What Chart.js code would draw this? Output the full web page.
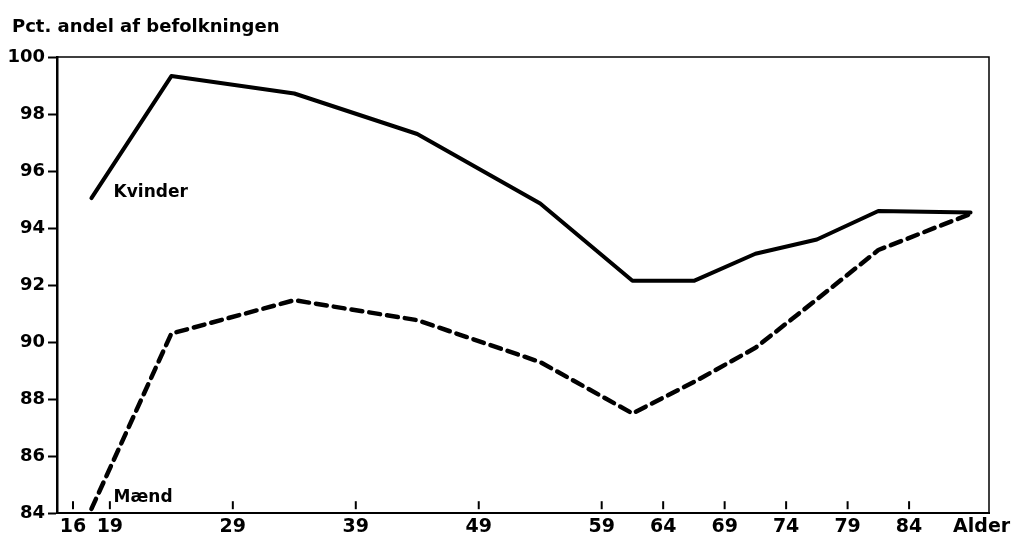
<!DOCTYPE html>
<html>
<head>
<meta charset="utf-8">
<script src="https://cdn.jsdelivr.net/npm/chart.js@4/dist/chart.umd.min.js"></script>
<style>
  html, body { margin: 0; padding: 0; background: #fff; }
  #wrap { width: 1011px; height: 547px; }
</style>
</head>
<body>
<div id="wrap"><canvas id="chart"></canvas></div>
<script>
// alder (midtpunkt af aldersgruppe) og andele
const ages = [17.5, 24, 34, 44, 54, 61.5, 66.5, 71.5, 76.5, 81.5, 89]
const kvinder = [95.05, 99.33, 98.72, 97.3, 94.86, 92.15, 92.15, 93.1, 93.6, 94.6, 94.55]
const maend = [84.15, 90.3, 91.47, 90.77, 89.3, 87.5, 88.6, 89.8, 91.5, 93.23, 94.5]
const xTicks = [16, 19, 29, 39, 49, 59, 64, 69, 74, 79, 84, 89.9]
const yTicks = [84, 86, 88, 90, 92, 94, 96, 98, 100]

const titleText = 'Pct. andel af befolkningen'

// titel, tynd ramme, smaa tick-streger indenfor x-aksen, linjenavne
const decor = {
  id: 'decor',
  afterDatasetsDraw(chart) {
    const { ctx, chartArea: a, scales: { x, y } } = chart
    ctx.save()
    ctx.strokeStyle = '#000'
    ctx.lineWidth = 1.5
    ctx.beginPath()
    ctx.moveTo(a.left, a.top)
    ctx.lineTo(a.right, a.top)
    ctx.lineTo(a.right, a.bottom)
    ctx.stroke()

    ctx.lineWidth = 2
    xTicks.slice(0, -1).forEach((v) => {
      const px = x.getPixelForValue(v)
      ctx.beginPath()
      ctx.moveTo(px, a.bottom - 4)
      ctx.lineTo(px, a.bottom - 12)
      ctx.stroke()
    })

    ctx.fillStyle = '#000'
    ctx.textAlign = 'left'
    ctx.textBaseline = 'alphabetic'
    ctx.font = 'bold 18px "DejaVu Sans"'
    ctx.fillText(titleText, 12, 32)

    ctx.textBaseline = 'middle'
    ctx.font = 'bold 17px "DejaVu Sans"'
    ctx.fillText('Kvinder', x.getPixelForValue(19.3), y.getPixelForValue(95.25))
    ctx.fillText('Mænd', x.getPixelForValue(19.3), y.getPixelForValue(84.55))
    ctx.restore()
  }
}

new Chart(document.getElementById('chart').getContext('2d'), {
  type: 'line',
  data: {
    labels: ages,
    datasets: [
      {
        label: 'Kvinder',
        data: ages.map((a, i) => ({ x: a, y: kvinder[i] })),
        borderColor: '#000',
        borderWidth: 4,
        borderCapStyle: 'round',
        borderJoinStyle: 'round',
        pointRadius: 0,
        tension: 0,
      },
      {
        label: 'Mænd',
        data: ages.map((a, i) => ({ x: a, y: maend[i] })),
        borderColor: '#000',
        borderWidth: 4.5,
        borderDash: [11, 7],
        borderCapStyle: 'round',
        borderJoinStyle: 'round',
        pointRadius: 0,
        tension: 0,
      },
    ],
  },
  options: {
    responsive: true,
    maintainAspectRatio: false,
    devicePixelRatio: 1,
    animation: false,
    layout: { padding: { left: 0, right: 22, top: 57, bottom: 7 } },
    plugins: {
      legend: { display: false },
      tooltip: { enabled: false },
      title: { display: false },
    },
    scales: {
      x: {
        type: 'linear',
        min: 14.7,
        max: 90.5,
        afterBuildTicks(scale) {
          scale.ticks = xTicks.map((v) => ({ value: v }))
        },
        afterFit(scale) {
          scale.paddingLeft = 0
          scale.paddingRight = 0
        },
        ticks: {
          color: '#000',
          font: { family: 'DejaVu Sans', weight: 'bold', size: 19 },
          padding: 2,
          maxRotation: 0,
          autoSkip: false,
          callback: (v) => (v === 89.9 ? 'Alder' : v),
        },
        grid: { display: true, drawOnChartArea: false, drawTicks: false },
        border: { display: true, color: '#000', width: 2 },
      },
      y: {
        min: 84,
        max: 100,
        afterBuildTicks(scale) {
          scale.ticks = yTicks.map((v) => ({ value: v }))
        },
        afterFit(scale) {
          scale.width = 57
        },
        ticks: {
          color: '#000',
          font: { family: 'DejaVu Sans', weight: 'bold', size: 18 },
          padding: 3,
        },
        grid: {
          display: true,
          drawOnChartArea: false,
          drawTicks: true,
          tickLength: 9,
          tickWidth: 2,
          tickColor: '#000',
        },
        border: { display: true, color: '#000', width: 2.5 },
      },
    },
  },
  plugins: [decor],
})
</script>
</body>
</html>
